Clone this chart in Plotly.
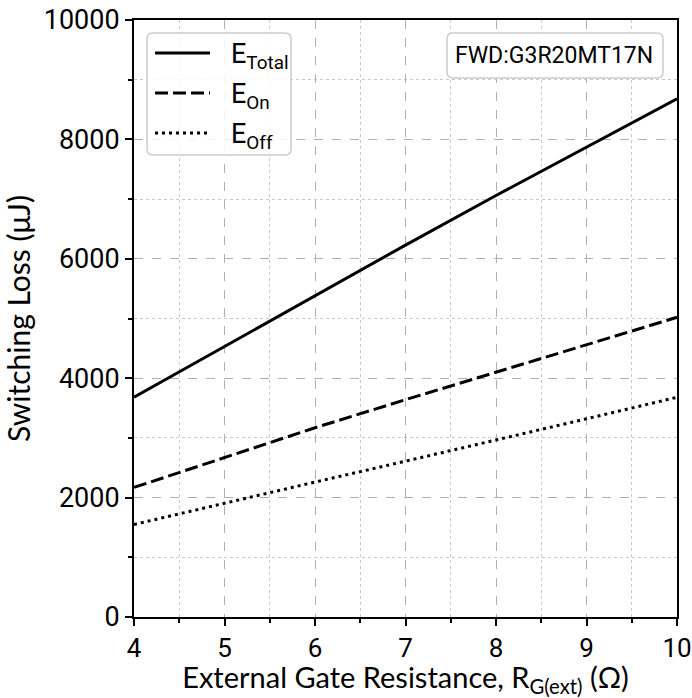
import plotly.graph_objects as go

rg = [4, 5, 6, 7, 8, 9, 10]
e_total = [3680, 4530, 5380, 6230, 7060, 7870, 8680]
e_on = [2170, 2670, 3170, 3640, 4100, 4560, 5020]
e_off = [1550, 1910, 2260, 2610, 2960, 3320, 3680]

names = ["E<sub>Total</sub>", "E<sub>On</sub>", "E<sub>Off</sub>"]
values = [e_total, e_on, e_off]
dashes = ["solid", "13px,5px", "3px,4px"]

fig = go.Figure()
for name, ys, dash in zip(names, values, dashes):
    fig.add_trace(go.Scatter(x=rg, y=ys, mode="lines", name=name, showlegend=False,
                             line=dict(color="black", width=3, dash=dash)))

common = dict(showgrid=True, gridcolor="#b0b0b0", gridwidth=1, griddash="dash",
              showline=True, linecolor="black", linewidth=2, mirror=True,
              ticks="outside", ticklen=7, tickwidth=1.5, tickcolor="black",
              ticklabeloverflow="allow",
              zeroline=False, automargin=False)
fig.update_xaxes(range=[4, 10], tickvals=[4, 5, 6, 7, 8, 9, 10],
                 ticktext=["4", "5", "6", "7", "8", "9", "10"],
                 tickfont=dict(family="Roboto", size=26, color="black"),
                 minor=dict(tickvals=[4.5, 5.5, 6.5, 7.5, 8.5, 9.5], showgrid=True,
                            gridcolor="#c8c8c8", griddash="dot",
                            ticks="outside", ticklen=4, tickcolor="black"),
                 title=dict(text="External Gate Resistance, R<sub>G(ext)</sub> (Ω)",
                            font=dict(family="Lato", size=29, color="black"), standoff=2),
                 **common)
fig.update_yaxes(range=[0, 10000], dtick=2000, tickformat="d",
                 tickfont=dict(family="Roboto", size=27, color="black"),
                 minor=dict(dtick=1000, showgrid=True, gridcolor="#c8c8c8", griddash="dot",
                            ticks="outside", ticklen=4, tickcolor="black"),
                 title=dict(text="Switching Loss (μJ)",
                            font=dict(family="Lato", size=30, color="black"), standoff=10),
                 **common)

def rounded_rect(x0, y0, x1, y1, rx, ry):
    return (f"M {x0+rx},{y0} L {x1-rx},{y0} Q {x1},{y0} {x1},{y0+ry} "
            f"L {x1},{y1-ry} Q {x1},{y1} {x1-rx},{y1} L {x0+rx},{y1} "
            f"Q {x0},{y1} {x0},{y1-ry} L {x0},{y0+ry} Q {x0},{y0} {x0+rx},{y0} Z")

W, H = 692, 698
L, R, T, B = 134, 15, 20, 81
pw, ph = W - L - R, H - T - B

def px(x):
    return (x - L) / pw

def py(y):
    return 1 - (y - T) / ph

rx, ry = 6 / pw, 6 / ph
# legend frame
fig.add_shape(type="path", xref="paper", yref="paper",
              path=rounded_rect(px(147), py(155), px(291), py(33), rx, ry),
              line=dict(color="#cccccc", width=1.5), fillcolor="rgba(255,255,255,0.85)", layer="above")
# legend entries
leg_y = [53, 93, 133]
for name, dash, yy in zip(names, dashes, leg_y):
    fig.add_shape(type="line", xref="paper", yref="paper",
                  x0=px(155), x1=px(210), y0=py(yy), y1=py(yy),
                  line=dict(color="black", width=3, dash=dash), layer="above")
    fig.add_annotation(x=px(229), y=py(yy + 3), xref="paper", yref="paper",
                       xanchor="left", yanchor="middle", text=name, showarrow=False,
                       font=dict(family="Roboto", size=27, color="black"))

# device label box
fig.add_shape(type="path", xref="paper", yref="paper",
              path=rounded_rect(px(447), py(78), px(663), py(33), rx, ry),
              line=dict(color="#cccccc", width=1.5), fillcolor="white", layer="above")
fig.add_annotation(x=px(554), y=py(55.5), xref="paper", yref="paper",
                   xanchor="center", yanchor="middle",
                   text="FWD:G3R20MT17N", showarrow=False,
                   font=dict(family="Roboto", size=23, color="black"))

fig.update_layout(
    width=W, height=H,
    margin=dict(l=L, r=R, t=T, b=B, autoexpand=False),
    plot_bgcolor="white", paper_bgcolor="white",
    showlegend=False,
)

fig.write_html("out.html", config={"displayModeBar": False},
               post_script="document.body.style.margin='0';")
